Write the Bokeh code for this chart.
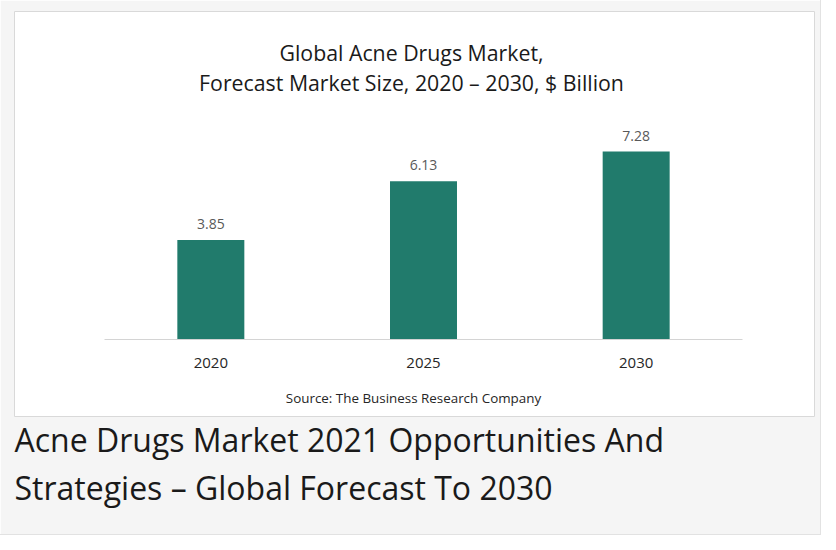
from bokeh.plotting import figure
from bokeh.models import (Range1d, Label, LabelSet, ColumnDataSource, LinearAxis,
                          FixedTicker, Title)
from bokeh.core.properties import value
from bokeh.embed import file_html
from bokeh.resources import INLINE

years = ["2020", "2025", "2030"]
market_size = [3.85, 6.13, 7.28]
value_labels = ["3.85", "6.13", "7.28"]
title_lines = ["Global Acne Drugs Market,", "Forecast Market Size, 2020 \u2013 2030, $ Billion"]
source_text = "Source: The Business Research Company"
caption_lines = ["Acne Drugs Market 2021 Opportunities And", "Strategies \u2013 Global Forecast To 2030"]

BAR = "#217b6c"
FONT = "Open Sans"

centers = [i + 0.5 for i in range(len(years))]
src = ColumnDataSource(dict(x=centers, val=market_size, lab=value_labels))

# frame = white chart panel (800 x 405)
CAT_PX = 638 / len(years)      # pixels per category
VAL_PX = 25.82                 # pixels per $ billion
x_start = -90 / CAT_PX
x_end = len(years) + 72 / CAT_PX
y_start = -77 / VAL_PX
y_end = (405 - 77) / VAL_PX

p = figure(x_range=Range1d(x_start, x_end), y_range=Range1d(y_start, y_end),
           width=820, height=534, output_backend="svg", toolbar_location=None,
           x_axis_location=None, y_axis_location=None,
           min_border_left=14, min_border_right=6, min_border_top=11, min_border_bottom=118)
p.styles = {"box-shadow": "0 0 0 1px #e2e2e2"}
p.background_fill_color = "white"
p.border_fill_color = "#f5f5f5"
p.outline_line_color = "#d9d9d9"
p.outline_line_width = 1
p.xgrid.visible = False
p.ygrid.visible = False

p.vbar(x="x", top="val", width=0.315, source=src, color=BAR, line_color=None)

p.add_layout(LabelSet(x="x", y="val", text="lab", source=src, text_align="center",
                      text_baseline="alphabetic", y_offset=11, text_font=value(FONT),
                      text_font_size="14px", text_color="#595959"))

ax = LinearAxis(ticker=FixedTicker(ticks=centers),
                major_label_overrides={c: y for c, y in zip(centers, years)},
                fixed_location=0, bounds=(0, len(years)))
ax.axis_line_color = "#d4d4d4"
ax.axis_line_width = 1
ax.major_tick_line_color = None
ax.minor_tick_line_color = None
ax.major_label_text_font = FONT
ax.major_label_text_font_size = "15px"
ax.major_label_text_color = "#262626"
ax.major_label_standoff = 12
p.add_layout(ax, "below")

for txt, yy in zip(title_lines, [364, 334]):
    p.add_layout(Label(x=397, y=yy, x_units="screen", y_units="screen", text=txt,
                       text_align="center", text_baseline="alphabetic", text_font=FONT,
                       text_font_size="21.3px", text_color="#1a1a1a"))

p.add_layout(Label(x=399, y=19, x_units="screen", y_units="screen", text=source_text,
                   text_align="center", text_baseline="alphabetic", text_font=FONT,
                   text_font_size="13.4px", text_color="#262626"))

for txt, so in zip(caption_lines, [-2, 9]):
    p.add_layout(Title(text=txt, align="left", standoff=so, text_font=FONT,
                       text_font_size="32px", text_font_style="normal",
                       text_color="#1a1a1a"), "below")

open("out.html", "w").write(file_html(p, INLINE))
